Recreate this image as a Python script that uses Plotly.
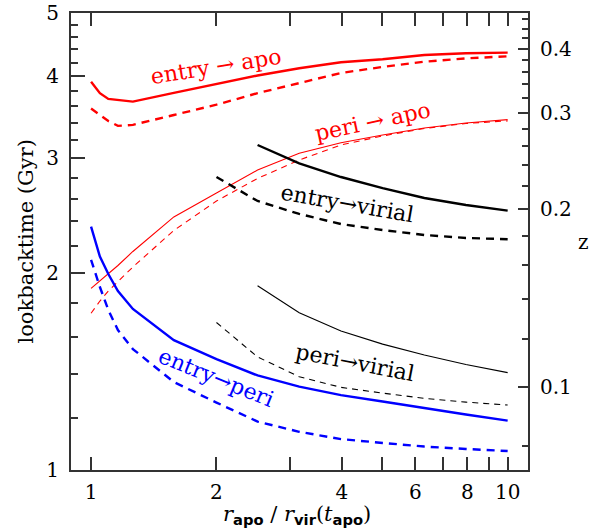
import numpy as np
import plotly.graph_objects as go

# ---------------- data ----------------
x_all = [1.0, 1.05, 1.10, 1.16, 1.26, 1.58, 2.0, 2.51, 3.16, 3.98, 5.01, 6.31, 7.94, 10.0]
x_from2 = [2.0, 2.51, 3.16, 3.98, 5.01, 6.31, 7.94, 10.0]
x_from25 = [2.51, 3.16, 3.98, 5.01, 6.31, 7.94, 10.0]

entry_apo = [3.926, 3.77, 3.694, 3.682, 3.659, 3.773, 3.894, 4.012, 4.116, 4.203, 4.248, 4.313, 4.339, 4.348]
entry_apo_d = [3.572, 3.497, 3.418, 3.36, 3.372, 3.491, 3.62, 3.77, 3.905, 4.048, 4.135, 4.212, 4.261, 4.293]
peri_apo = [1.896, 1.946, 1.994, 2.055, 2.159, 2.438, 2.653, 2.876, 3.051, 3.167, 3.254, 3.335, 3.394, 3.435]
peri_apo_d = [1.737, 1.813, 1.878, 1.939, 2.044, 2.325, 2.579, 2.792, 2.98, 3.141, 3.243, 3.329, 3.388, 3.42]
entry_vir = [3.141, 2.945, 2.806, 2.699, 2.606, 2.543, 2.493]
entry_vir_d = [2.806, 2.579, 2.464, 2.378, 2.328, 2.288, 2.264, 2.254]
peri_vir = [1.913, 1.740, 1.632, 1.558, 1.499, 1.450, 1.409]
peri_vir_d = [1.681, 1.489, 1.389, 1.338, 1.311, 1.287, 1.270, 1.257]
entry_peri = [2.356, 2.12, 1.994, 1.878, 1.763, 1.58, 1.478, 1.395, 1.341, 1.302, 1.273, 1.243, 1.216, 1.19]
entry_peri_d = [2.096, 1.905, 1.757, 1.637, 1.531, 1.363, 1.268, 1.186, 1.144, 1.115, 1.10, 1.086, 1.077, 1.069]

x_ticks = [1, 2, 4, 6, 8, 10]
x_minor = [3, 5, 7, 9]
y_ticks = [1, 2, 3, 4, 5]
y_minor = [1.2, 1.4, 1.6, 1.8, 2.2, 2.4, 2.6, 2.8, 3.2, 3.4, 3.6, 3.8, 4.2, 4.4, 4.6, 4.8]
z_major = [0.1, 0.2, 0.3, 0.4]
z_minor = [0.08, 0.12, 0.14, 0.16, 0.18, 0.22, 0.24, 0.26, 0.28, 0.32, 0.34, 0.36, 0.38, 0.42, 0.44, 0.46]

H0 = 68.0
OM = 0.3


def lookback(z):
    zz = np.linspace(0, z, 2001)
    f = 1.0 / ((1 + zz) * np.sqrt(OM * (1 + zz) ** 3 + (1 - OM)))
    return float(np.trapezoid(f, zz) * 977.8 / H0)


z_major_t = [lookback(z) for z in z_major]
z_minor_t = [lookback(z) for z in z_minor]

RED = "#ff0000"
BLUE = "#0000ff"
BLK = "#000000"
THICK = 2.4
THIN = 1.1
FONT = "DejaVu Serif"
AX = "#333333"

W, H = 601, 532
L, R, T, B = 71, 73, 13, 62
PW, PH = W - L - R, H - T - B

fig = go.Figure()


def add(x, y, color, width, dash):
    fig.add_trace(go.Scatter(x=x, y=y, mode="lines",
                             line=dict(color=color, width=width, dash=dash),
                             showlegend=False, hoverinfo="skip"))


add(x_all, entry_apo, RED, THICK, "solid")
add(x_all, entry_apo_d, RED, THICK, "8px,6px")
add(x_all, peri_apo, RED, THIN, "solid")
add(x_all, peri_apo_d, RED, THIN, "6px,5px")
add(x_from25, entry_vir, BLK, THICK, "solid")
add(x_from2, entry_vir_d, BLK, THICK, "8px,6px")
add(x_from25, peri_vir, BLK, THIN, "solid")
add(x_from2, peri_vir_d, BLK, THIN, "6px,5px")
add(x_all, entry_peri, BLUE, THICK, "solid")
add(x_all, entry_peri_d, BLUE, THICK, "8px,6px")

# invisible trace to activate the right axis
fig.add_trace(go.Scatter(x=[1], y=[1], yaxis="y2", mode="markers",
                         marker=dict(opacity=0), showlegend=False, hoverinfo="skip"))

yr = [0, np.log10(5)]
xr = [np.log10(0.895), np.log10(11.19)]

fig.update_layout(
    width=W, height=H,
    margin=dict(l=L, r=R, t=T, b=B, autoexpand=False),
    paper_bgcolor="white", plot_bgcolor="white",
    font=dict(family=FONT, size=18, color="black"),
    xaxis=dict(type="log", range=xr, showgrid=False, zeroline=False,
               showline=True, linecolor=AX, linewidth=2, mirror="allticks",
               ticks="inside", ticklen=13, tickwidth=1.5, tickcolor=AX,
               tickmode="array", tickvals=x_ticks, ticktext=[str(v) for v in x_ticks],
               minor=dict(tickmode="array", tickvals=x_minor, ticks="inside",
                          ticklen=7, tickwidth=1.5, tickcolor=AX, showgrid=False),
               tickfont=dict(size=20), ticklabelstandoff=3),
    yaxis=dict(type="log", range=yr, showgrid=False, zeroline=False,
               showline=True, linecolor=AX, linewidth=2, mirror=False,
               ticks="inside", ticklen=14, tickwidth=1.5, tickcolor=AX,
               tickmode="array", tickvals=y_ticks, ticktext=[str(v) for v in y_ticks],
               minor=dict(tickmode="array", tickvals=y_minor, ticks="inside",
                          ticklen=7, tickwidth=1.5, tickcolor=AX, showgrid=False),
               tickfont=dict(size=20), ticklabelstandoff=6),
    yaxis2=dict(type="log", range=yr, overlaying="y", side="right",
                showgrid=False, zeroline=False,
                showline=True, linecolor=AX, linewidth=2,
                ticks="inside", ticklen=10, tickwidth=1.5, tickcolor=AX,
                tickmode="array", tickvals=z_major_t, ticktext=[f"{z:.1f}" for z in z_major],
                minor=dict(tickmode="array", tickvals=z_minor_t, ticks="inside",
                           ticklen=6, tickwidth=1.5, tickcolor=AX, showgrid=False),
                tickfont=dict(size=20), ticklabelstandoff=6),
)


def px2paper(px, py):
    return (px - L) / PW, (H - B - py) / PH


ann = [
    ("entry \u2192 apo", 215.5, 66, -9, RED),
    ("peri \u2192 apo", 373, 122, -12, RED),
    ("entry\u2192virial", 347.5, 203, 10, BLK),
    ("peri\u2192virial", 355, 362, 11, BLK),
    ("entry\u2192peri", 216, 378, 22, BLUE),
]
for txt, px, py, ang, col in ann:
    ax_, ay_ = px2paper(px, py)
    fig.add_annotation(text=txt, x=ax_, y=ay_, xref="paper", yref="paper",
                       xanchor="center", yanchor="middle", showarrow=False,
                       textangle=ang, font=dict(family=FONT, size=22, color=col))

# axis titles
ax_, ay_ = px2paper(25, 241.5)
fig.add_annotation(text="lookbacktime (Gyr)", x=ax_, y=ay_,
                   xref="paper", yref="paper", xanchor="center", yanchor="middle",
                   showarrow=False, textangle=-90, font=dict(family=FONT, size=21))
sub = '<sub><span style="font-family:DejaVu Sans;font-weight:bold">{}</span></sub>'
xt = ("<i>r</i>" + sub.format("apo") + " / <i>r</i>" + sub.format("vir")
      + "(<i>t</i>" + sub.format("apo") + ")")
ax_, ay_ = px2paper(297, 515)
fig.add_annotation(text=xt, x=ax_, y=ay_, xref="paper", yref="paper",
                   xanchor="center", yanchor="middle", showarrow=False,
                   font=dict(family=FONT, size=21))
ax_, ay_ = px2paper(583, 242)
fig.add_annotation(text="z", x=ax_, y=ay_, xref="paper", yref="paper",
                   xanchor="center", yanchor="middle", showarrow=False,
                   font=dict(family=FONT, size=20))

fig.write_html("out.html", config={"displayModeBar": False},
               post_script="document.body.style.margin='0px';")
